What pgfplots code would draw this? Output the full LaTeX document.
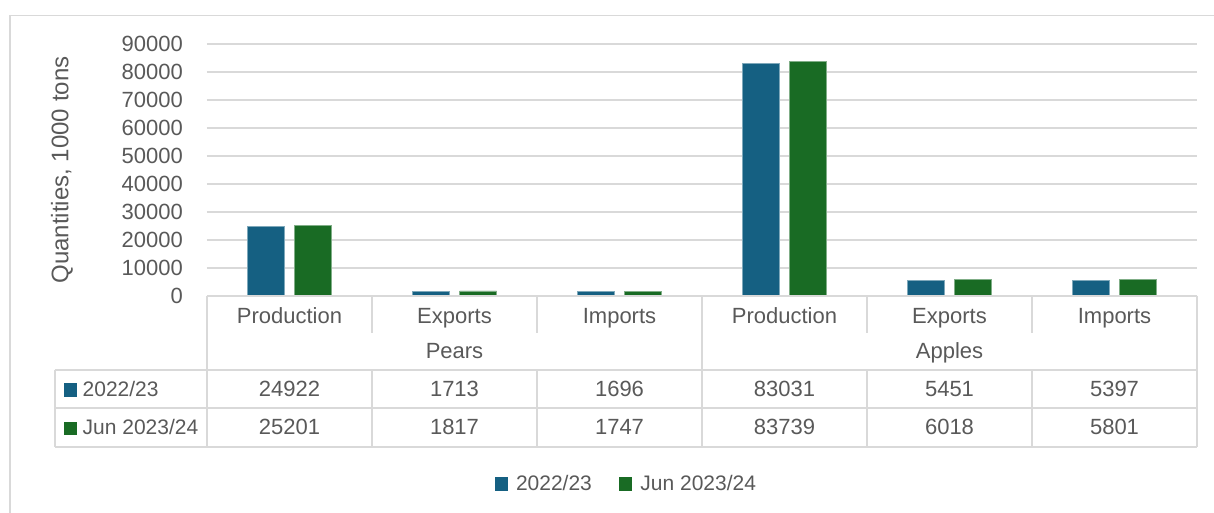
\documentclass[border=0pt]{standalone}
\usepackage{fontspec}
\setmainfont{Liberation Sans}
\usepackage{pgfplots}
\usepackage{pgfplotstable}
\pgfplotsset{compat=1.18}
\definecolor{cA}{HTML}{156082}
\definecolor{cB}{HTML}{196B24}
\definecolor{tc}{HTML}{595959}
\definecolor{gl}{HTML}{D9D9D9}
\pgfplotstableread{
x a b
0 24922 25201
1 1713 1817
2 1696 1747
3 83031 83739
4 5451 6018
5 5397 5801
}\datatable
\newcommand\fs{\fontsize{22}{26}\selectfont}
\newcommand\fss{\fontsize{21}{25}\selectfont}
\begin{document}
\begin{tikzpicture}
\path[use as bounding box] (-207pt,-217pt) rectangle (1007pt,296pt);
\draw[gl, line width=1.2pt] (-197pt,280.5pt) rectangle (1030pt,-240pt);
\begin{axis}[
  at={(0pt,0pt)}, anchor=south west,
  scale only axis, width=990pt, height=252pt,
  xmin=-0.5, xmax=5.5, ymin=0, ymax=90000,
  ybar=10pt, bar width=37pt,
  axis line style={draw=none},
  xtick={0,...,5},
  xticklabels={Production,Exports,Imports,Production,Exports,Imports},
  xticklabel style={font=\fs, text=tc, anchor=base, yshift=-27.5pt},
  ytick={0,10000,...,90000},
  ymajorgrids, grid style={gl, line width=1.5pt},
  major tick length=0pt,
  scaled y ticks=false,
  yticklabel style={font=\fs, text=tc, anchor=east, inner sep=0pt, xshift=-24pt},
  /pgf/number format/1000 sep={},
  /pgf/number format/assume math mode=true,
  ylabel={Quantities, 1000 tons},
  ylabel style={font=\fontsize{24}{28}\selectfont, text=tc, at={(axis description cs:-0.1465,0.5)}, anchor=center},
  legend style={at={(axis description cs:0.4235,-0.745)}, anchor=center, draw=none, fill=none,
    font=\fss, text=tc, legend columns=2, inner sep=0pt,
    /tikz/every even column/.append style={column sep=25pt}},
  legend image code/.code={\fill[#1,draw=none] (0pt,-7pt) rectangle (13.5pt,6.5pt);
    \path[draw=none,fill=none] (0pt,0pt) -- (19.5pt,0pt);},
]
\addplot[fill=cA, draw=cA!55!white, line width=0.8pt] table[x=x,y=a]{\datatable};
\addplot[fill=cB, draw=cB!55!white, line width=0.8pt] table[x=x,y=b]{\datatable};
\legend{2022/23, Jun 2023/24}
\end{axis}
% data table below the chart
\begin{scope}[gl, line width=1.5pt]
\draw (0pt,0pt) -- (990pt,0pt);
\draw (-152pt,-74pt) -- (990pt,-74pt);
\draw (-152pt,-112pt) -- (990pt,-112pt);
\draw (-152pt,-151pt) -- (990pt,-151pt);
\draw (-152pt,-74pt) -- (-152pt,-151pt);
\draw (0pt,0pt) -- (0pt,-151pt);
\draw (495pt,0pt) -- (495pt,-151pt);
\draw (990pt,0pt) -- (990pt,-151pt);
\foreach \k in {165,330,660,825}{
  \draw (\k pt,0pt) -- (\k pt,-37pt);
  \draw (\k pt,-74pt) -- (\k pt,-151pt);
}
\end{scope}
\node[font=\fs, text=tc, anchor=base] at (247.5pt,-62.3pt) {Pears};
\node[font=\fs, text=tc, anchor=base] at (742.5pt,-62.3pt) {Apples};
\fill[cA] (-143pt,-100.7pt) rectangle (-129.5pt,-87.3pt);
\fill[cB] (-143pt,-139pt) rectangle (-129.5pt,-125.5pt);
\node[font=\fss, text=tc, anchor=base west, inner sep=0pt] at (-124.5pt,-100.7pt) {2022/23};
\node[font=\fss, text=tc, anchor=base west, inner sep=0pt] at (-124.5pt,-139pt) {Jun 2023/24};
\foreach \i in {0,...,5}{
  \pgfplotstablegetelem{\i}{a}\of\datatable
  \node[font=\fs, text=tc, anchor=base] at ({82.5pt+165pt*\i},-100.7pt) {\pgfplotsretval};
  \pgfplotstablegetelem{\i}{b}\of\datatable
  \node[font=\fs, text=tc, anchor=base] at ({82.5pt+165pt*\i},-139pt) {\pgfplotsretval};
}
\end{tikzpicture}
\end{document}
